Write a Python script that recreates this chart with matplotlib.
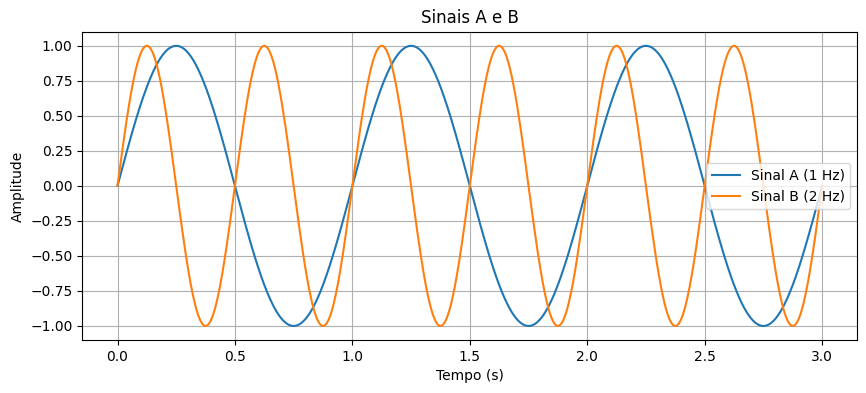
import numpy as np
from matplotlib import pyplot as plt

# sinal: 0 a 3 s, frequencias das legendas
t_start, t_end, n_points = 0.0, 3.0, 1000
freq_a = 1.0
freq_b = 2.0
labels = ['Sinal A (1 Hz)', 'Sinal B (2 Hz)']

t = np.linspace(t_start, t_end, n_points)
sinal_a = np.sin(2 * np.pi * freq_a * t)
sinal_b = np.sin(2 * np.pi * freq_b * t)

fig = plt.figure(figsize=(8.66, 3.93), dpi=100)
ax = fig.add_axes([0.095, 0.135, 0.895, 0.784])
ax.plot(t, sinal_a, label=labels[0])
ax.plot(t, sinal_b, label=labels[1])
ax.set_title('Sinais A e B')
ax.set_xlabel('Tempo (s)')
ax.set_ylabel('Amplitude')
ax.legend(loc='center right')
ax.grid(True)
fig.savefig('out.png', dpi=100)
